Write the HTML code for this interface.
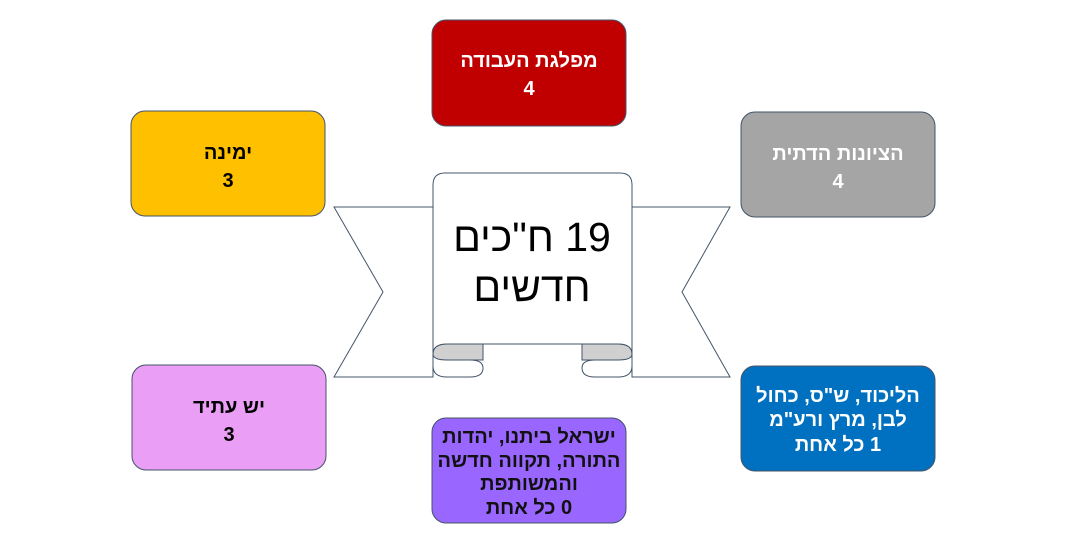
<!DOCTYPE html>
<html><head><meta charset="utf-8"><style>
html,body{margin:0;padding:0;background:#fff;}
svg{display:block;}
text{font-family:"Liberation Sans","Noto Sans CJK JP","DejaVu Sans",sans-serif;}
.b{font-weight:bold;font-size:20px;text-anchor:middle;direction:rtl;}
</style></head><body>
<svg width="1070" height="542" viewBox="0 0 1070 542" xmlns="http://www.w3.org/2000/svg">
<g stroke="#44546A" stroke-width="1" fill="#fff">
  <path d="M334,207 L433,207 L433,377 L334,377 L383,292 Z"/>
  <path d="M632,207 L730,207 L682,292 L730,377 L632,377 Z"/>
  <!-- left curl -->
  <path d="M433,352 L433,366 Q433,377 447,377 L470,377 Q483,377 483,368 Q483,360 470,360 L483,360 L483,343 Z" fill="#fff"/>
  <path d="M433,354 Q433,344 447,344 L483,344 L483,360 L447,360 Q433,360 433,354 Z" fill="#D0D0D0"/>
  <!-- right curl -->
  <path d="M632,352 L632,366 Q632,377 618,377 L595,377 Q582,377 582,368 Q582,360 595,360 L582,360 L582,343 Z" fill="#fff"/>
  <path d="M632,354 Q632,344 618,344 L582,344 L582,360 L618,360 Q632,360 632,354 Z" fill="#D0D0D0"/>
  <!-- main panel -->
  <path d="M433,354 L433,185 Q433,173 445,173 L620,173 Q632,173 632,185 L632,354 Q632,344 618,344 L447,344 Q433,344 433,354 Z"/>
</g>
<text x="532" y="251" font-size="41" text-anchor="middle" direction="rtl">19 ח"כים</text>
<text x="532" y="301" font-size="41" text-anchor="middle" direction="rtl">חדשים</text>

<g stroke="#44546A" stroke-width="1">
  <rect x="432" y="20" width="194" height="106" rx="14" fill="#C00000"/>
  <rect x="131" y="111" width="194" height="105" rx="14" fill="#FFC000"/>
  <rect x="741" y="112" width="194" height="105" rx="14" fill="#A5A5A5"/>
  <rect x="132" y="365" width="194" height="105" rx="14" fill="#EA9EF5"/>
  <rect x="741" y="366" width="194" height="105" rx="14" fill="#0070C0"/>
  <rect x="432" y="418" width="194" height="105" rx="14" fill="#9966FF"/>
</g>
<text class="b" x="529" y="67" fill="#fff">מפלגת העבודה</text>
<text class="b" x="529" y="95" fill="#fff">4</text>
<text class="b" x="228" y="159" fill="#000">ימינה</text>
<text class="b" x="228" y="187" fill="#000">3</text>
<text class="b" x="838" y="160" fill="#fff">הציונות הדתית</text>
<text class="b" x="838" y="188" fill="#fff">4</text>
<text class="b" x="229" y="413" fill="#000">יש עתיד</text>
<text class="b" x="229" y="441" fill="#000">3</text>
<text class="b" x="838" y="402" fill="#fff">הליכוד, ש"ס, כחול</text>
<text class="b" x="838" y="426" fill="#fff">לבן, מרץ ורע"מ</text>
<text class="b" x="838" y="451" fill="#fff">1 כל אחת</text>
<text class="b" x="529" y="443" fill="#111">ישראל ביתנו, יהדות</text>
<text class="b" x="529" y="467" fill="#111">התורה, תקווה חדשה</text>
<text class="b" x="529" y="490" fill="#111">והמשותפת</text>
<text class="b" x="529" y="514" fill="#111">0 כל אחת</text>
</svg>
</body></html>
